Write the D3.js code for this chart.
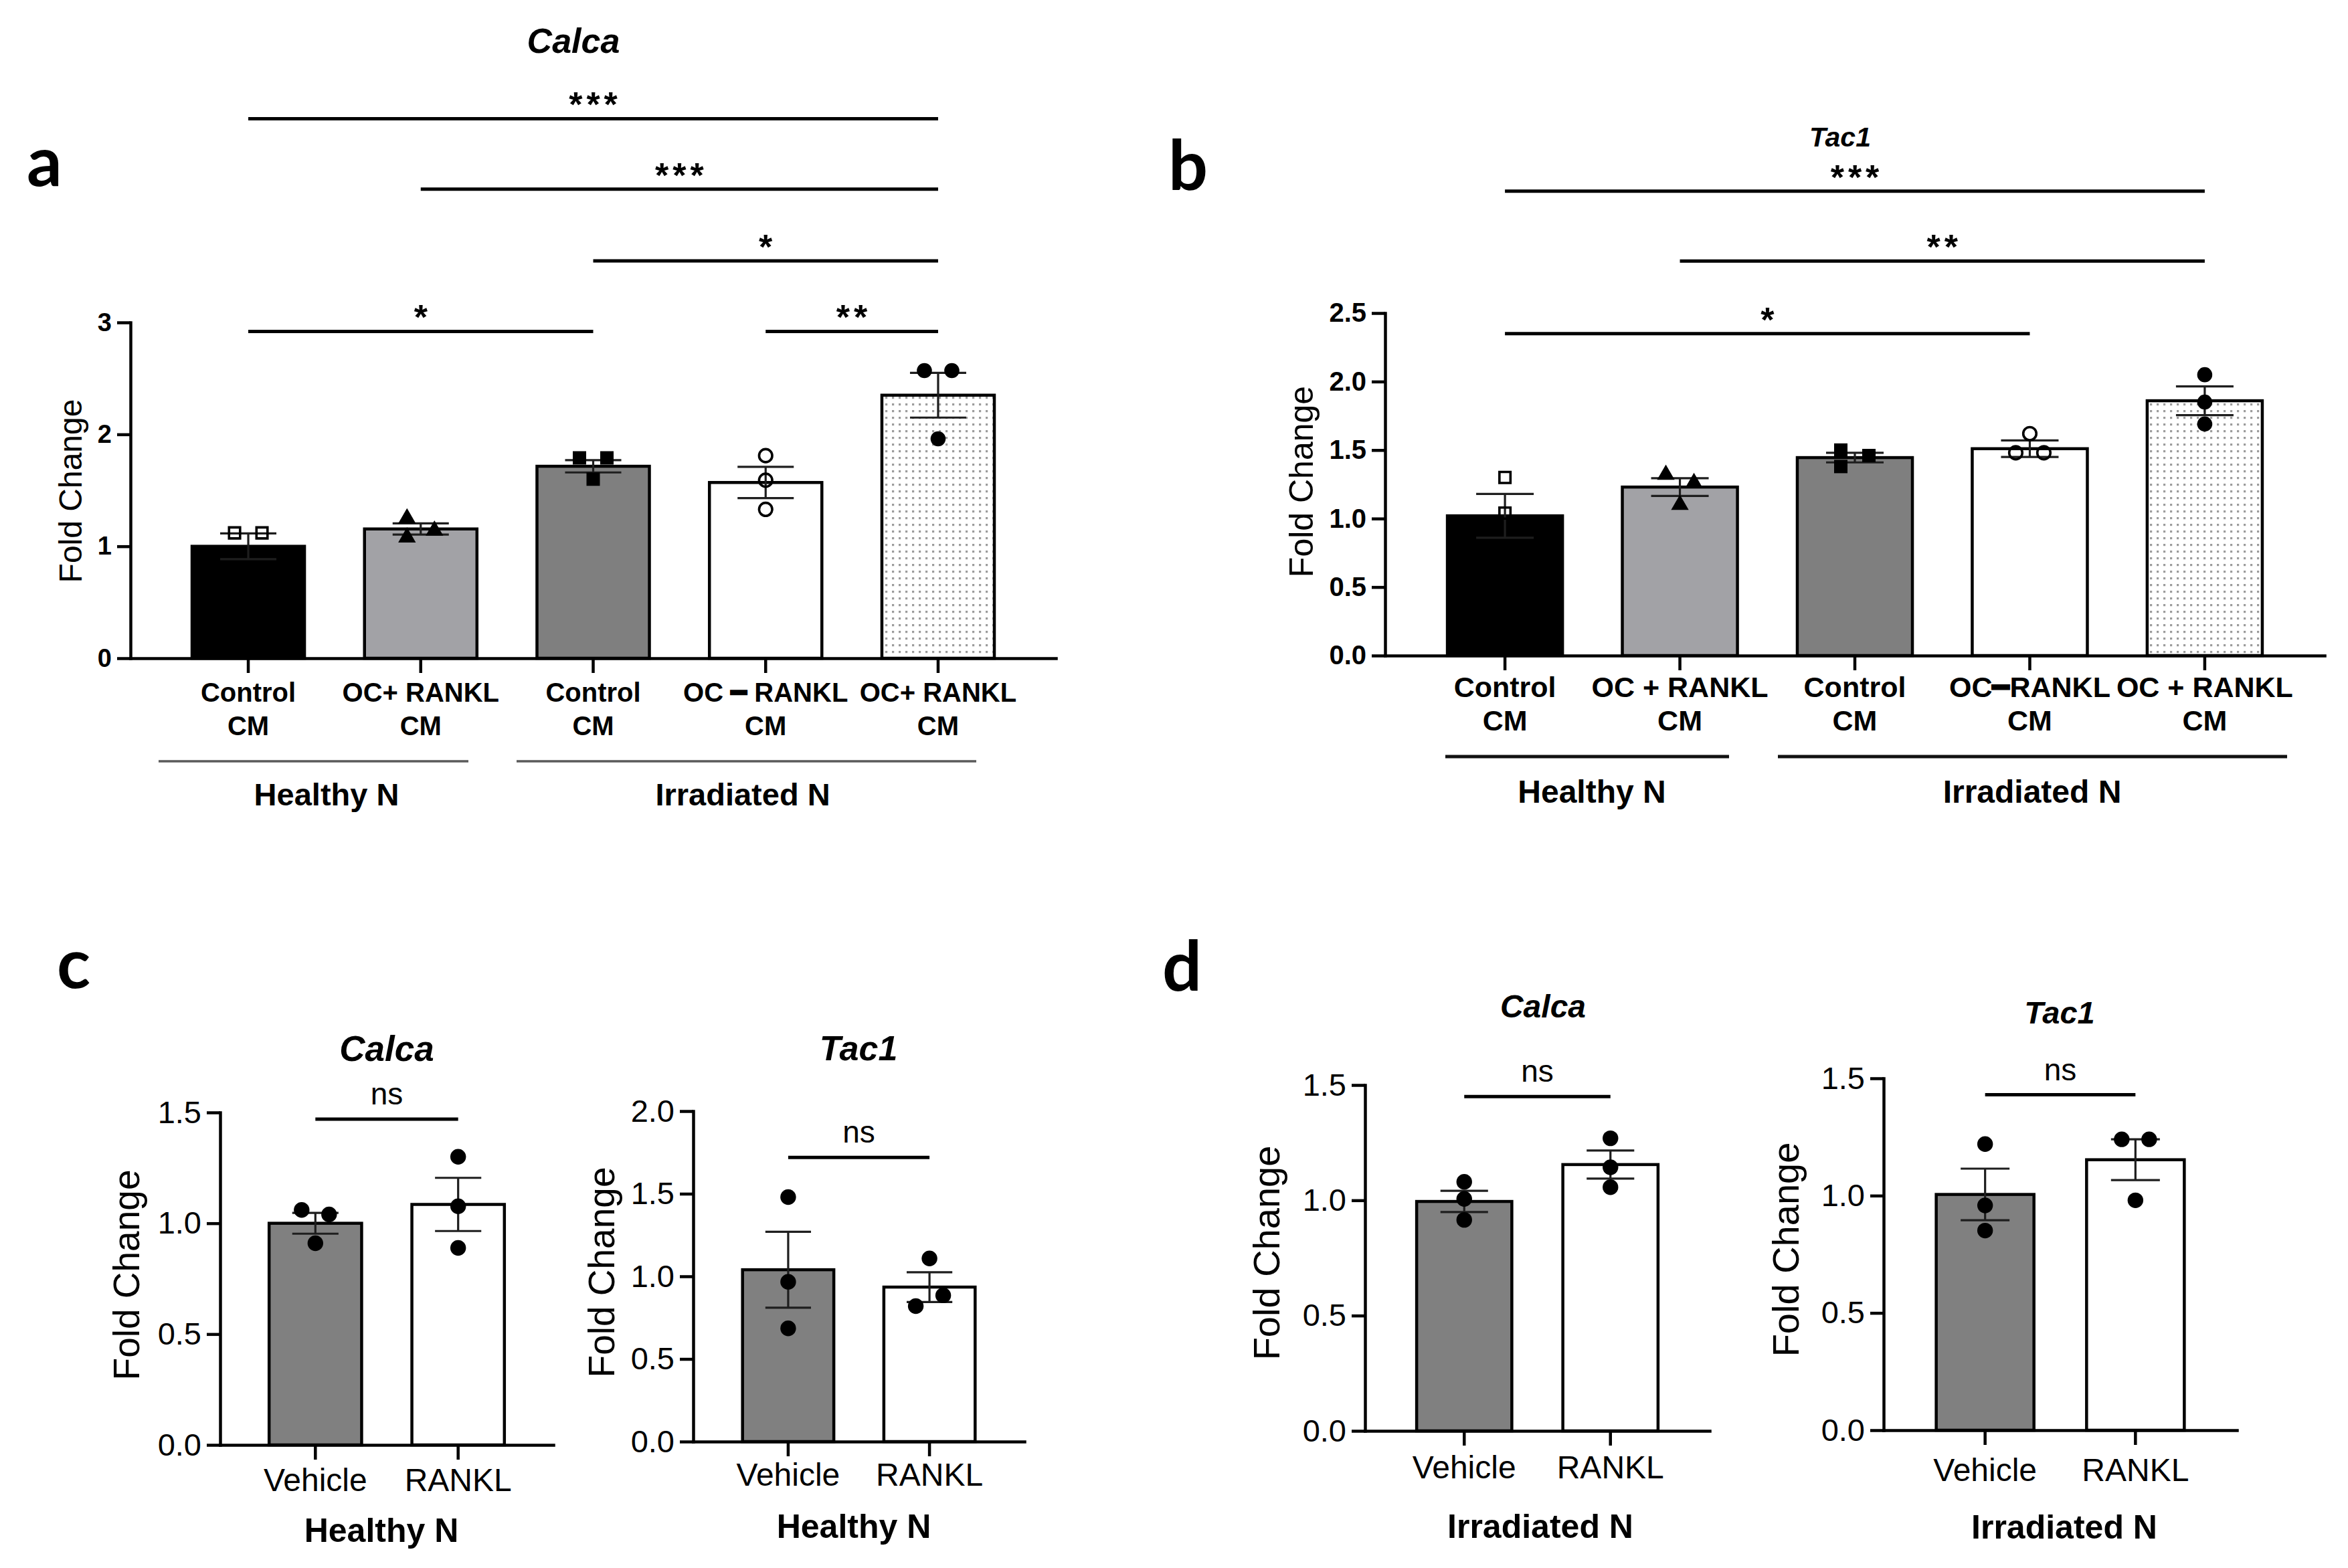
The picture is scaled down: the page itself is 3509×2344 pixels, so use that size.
<!DOCTYPE html>
<html><head><meta charset="utf-8">
<script src="https://cdn.jsdelivr.net/npm/d3@7"></script>
<style>body{margin:0;background:#fff}svg{display:block}</style>
</head><body>
<svg id="fig" width="3509" height="2344"></svg>
<script>
// ---------- DATA ----------
// Panel a (Calca)
const aLabelTop = ["Control", "OC+ RANKL", "Control", "OC \u2501 RANKL", "OC+ RANKL"];
const aLabelBottom = ["CM", "CM", "CM", "CM", "CM"];
const aMeans = [1.00, 1.155, 1.715, 1.57, 2.35];
const aSem = [0.115, 0.05, 0.055, 0.14, 0.20];
const aPoints = [[1.12, 1.12, 0.76], [1.25, 1.08, 1.14], [1.79, 1.79, 1.60], [1.81, 1.59, 1.33], [2.57, 2.57, 1.96]];
const aTicks = [0, 1, 2, 3];
const aSig = [
  {from: 0, to: 4, y: 4.82, label: "***"},
  {from: 1, to: 4, y: 4.19, label: "***"},
  {from: 2, to: 4, y: 3.55, label: "*"},
  {from: 0, to: 2, y: 2.92, label: "*"},
  {from: 3, to: 4, y: 2.92, label: "**"}
];
// Panel b (Tac1)
const bLabelTop = ["Control", "OC + RANKL", "Control", "OC\u2501RANKL", "OC + RANKL"];
const bLabelBottom = ["CM", "CM", "CM", "CM", "CM"];
const bMeans = [1.02, 1.23, 1.445, 1.51, 1.86];
const bSem = [0.16, 0.065, 0.035, 0.06, 0.105];
const bPoints = [[1.30, 1.04, 0.73], [1.32, 1.26, 1.10], [1.50, 1.38, 1.46], [1.62, 1.48, 1.48], [2.05, 1.85, 1.69]];
const bTicks = [0, 0.5, 1.0, 1.5, 2.0, 2.5];
const bSig = [
  {from: 0, to: 4, y: 3.39, label: "***"},
  {from: 1, to: 4, y: 2.88, label: "**"},
  {from: 0, to: 3, y: 2.35, label: "*"}
];
const groupLabels = ["Healthy N", "Irradiated N"];
// Panels c, d
const cdCats = ["Vehicle", "RANKL"];
const cCalcaMeans = [1.00, 1.085];
const cCalcaSem = [0.047, 0.12];
const cCalcaPoints = [[1.06, 1.04, 0.91], [1.30, 1.077, 0.889]];
const cTac1Means = [1.04, 0.935];
const cTac1Sem = [0.23, 0.09];
const cTac1Points = [[1.48, 0.967, 0.685], [1.108, 0.885, 0.82]];
const dCalcaMeans = [0.995, 1.155];
const dCalcaSem = [0.046, 0.061];
const dCalcaPoints = [[1.08, 1.006, 0.915], [1.269, 1.143, 1.057]];
const dTac1Means = [1.005, 1.153];
const dTac1Sem = [0.11, 0.087];
const dTac1Points = [[1.22, 0.958, 0.851], [1.24, 1.24, 0.98]];
const ticks15 = [0, 0.5, 1.0, 1.5];
const ticks20 = [0, 0.5, 1.0, 1.5, 2.0];
const nsY = {cCalca: 1.47, cTac1: 1.72, dCalca: 1.45, dTac1: 1.43};

// ---------- DRAWING ----------
const FONT = "'Liberation Sans', Arial, Helvetica, sans-serif";
const svg = d3.select("#fig");
svg.append("rect").attr("width", 3509).attr("height", 2344).attr("fill", "#fff");
const defs = svg.append("defs");
const pat = defs.append("pattern").attr("id", "dots").attr("width", 10).attr("height", 10)
  .attr("patternUnits", "userSpaceOnUse");
pat.append("rect").attr("width", 10).attr("height", 10).attr("fill", "#fff");
pat.append("rect").attr("x", 3).attr("y", 3).attr("width", 3.2).attr("height", 3.2).attr("fill", "#9c9c9c");

function txt(g, x, y, s, size, opts = {}) {
  const t = g.append("text").attr("x", x).attr("y", y).text(s)
    .attr("font-family", opts.family || FONT).attr("font-size", size)
    .attr("font-weight", opts.weight || "normal")
    .attr("font-style", opts.style || "normal")
    .attr("text-anchor", opts.anchor || "middle").attr("fill", "#000");
  if (opts.ls) t.attr("letter-spacing", opts.ls);
  if (opts.rotate) t.attr("transform", `rotate(-90,${x},${y})`).attr("dominant-baseline", "central");
  return t;
}

function panel(o) {
  const g = svg.append("g");
  const n = o.means.length;
  const x = d3.scaleBand().domain(d3.range(n)).range([o.x0, o.x1]).paddingInner(o.pi).paddingOuter(o.po);
  const y = d3.scaleLinear().domain([0, o.yMax]).range([o.y0, o.yTop]);
  const cx = i => x(i) + x.bandwidth() / 2;

  // bars
  g.selectAll("rect.bar").data(o.means).join("rect").attr("class", "bar")
    .attr("x", (d, i) => x(i)).attr("y", d => y(d))
    .attr("width", x.bandwidth()).attr("height", d => y(0) - y(d))
    .attr("fill", (d, i) => o.fills[i]).attr("stroke", "#000").attr("stroke-width", 4.5);

  // error bars (SEM)
  const capW = x.bandwidth() * 0.5;
  const eb = g.append("g").attr("stroke", "#1e1e1e").attr("stroke-width", 3.2).attr("fill", "none");
  o.means.forEach((m, i) => {
    const lo = y(m - o.sem[i]), hi = y(m + o.sem[i]);
    eb.append("line").attr("x1", cx(i)).attr("x2", cx(i)).attr("y1", lo).attr("y2", hi);
    eb.append("line").attr("x1", cx(i) - capW / 2).attr("x2", cx(i) + capW / 2).attr("y1", hi).attr("y2", hi);
    eb.append("line").attr("x1", cx(i) - capW / 2).attr("x2", cx(i) + capW / 2).attr("y1", lo).attr("y2", lo);
  });

  // axes
  const yAx = g.append("g").attr("transform", `translate(${o.x0},0)`)
    .call(d3.axisLeft(y).tickValues(o.ticks).tickSize(20).tickSizeOuter(0).tickPadding(8).tickFormat(d3.format(o.fmt)));
  const xAx = g.append("g").attr("transform", `translate(0,${o.y0})`)
    .call(d3.axisBottom(x).tickSize(22).tickSizeOuter(0).tickFormat(""));
  [yAx, xAx].forEach(a => {
    a.select(".domain").attr("stroke", "#000").attr("stroke-width", 4.5).attr("stroke-linecap", "square");
    a.selectAll(".tick line").attr("stroke", "#000").attr("stroke-width", 4.5);
  });
  yAx.selectAll(".tick text").attr("font-family", FONT).attr("font-size", o.tickSize)
    .attr("font-weight", o.tickWeight).attr("fill", "#000");

  // points
  const pts = o.points.flatMap((arr, i) => arr.map((v, k) => ({i, v, dx: o.jit[i][k]})));
  const sym = {
    sq: d3.symbol().type(d3.symbolSquare).size(400),
    sqOpen: d3.symbol().type(d3.symbolSquare).size(272),
    tri: d3.symbol().type(d3.symbolTriangle).size(300),
    circ: d3.symbol().type(d3.symbolCircle).size(o.dotSize || 420),
    circOpen: d3.symbol().type(d3.symbolCircle).size(300)
  };
  g.selectAll("path.pt").data(pts).join("path").attr("class", "pt")
    .attr("transform", d => `translate(${cx(d.i) + d.dx * o.jitPx},${y(d.v)})`)
    .attr("d", d => sym[o.shapes[d.i]]())
    .attr("fill", d => o.shapes[d.i].endsWith("Open") ? "none" : "#000")
    .attr("stroke", "#000")
    .attr("stroke-width", d => o.shapes[d.i].endsWith("Open") ? 3.6 : 0);

  // significance brackets
  (o.sig || []).forEach(s => {
    const yy = y(s.y);
    g.append("line").attr("x1", cx(s.from)).attr("x2", cx(s.to)).attr("y1", yy).attr("y2", yy)
      .attr("stroke", "#000").attr("stroke-width", 5);
    const mid = (cx(s.from) + cx(s.to)) / 2;
    if (s.label === "ns") txt(g, mid, yy - 22, "ns", o.nsSize || 46);
    else txt(g, mid + 3, yy - 3, s.label, 52, {weight: "bold", ls: 6});
  });

  // y label
  txt(g, o.ylabX, o.ylabY, "Fold Change", o.ylabSize, {rotate: true});
  // title
  txt(g, o.titleX, o.titleY, o.title, o.titleSize, {weight: "bold", style: "italic"});
  return {x, y, cx, g};
}

// Panel a
const pa = panel({
  means: aMeans, sem: aSem, points: aPoints, ticks: aTicks, fmt: "d", yMax: 3,
  x0: 195, x1: 1578, pi: 0.348, po: 0.357, y0: 984, yTop: 482,
  fills: ["#000", "#a2a2a6", "#7f7f7f", "#fff", "url(#dots)"],
  shapes: ["sqOpen", "tri", "sq", "circOpen", "circ"],
  jit: [[-1, 1, 0], [-1, -1, 1], [-1, 1, 0], [0, 0, 0], [-1, 1, 0]], jitPx: 20.5,
  tickSize: 38, tickWeight: "bold", sig: aSig, dotSize: 400,
  ylabX: 105, ylabY: 734, ylabSize: 48,
  title: "Calca", titleX: 857, titleY: 79, titleSize: 52
});
aLabelTop.forEach((s, i) => {
  txt(pa.g, pa.cx(i), 1049, s, 40, {weight: "bold"});
  txt(pa.g, pa.cx(i), 1099, aLabelBottom[i], 40, {weight: "bold"});
});
[[237, 700], [772, 1459]].forEach(([a, b]) =>
  pa.g.append("line").attr("x1", a).attr("x2", b).attr("y1", 1138).attr("y2", 1138)
    .attr("stroke", "#5a5a5a").attr("stroke-width", 3.5));
txt(pa.g, 488, 1204, groupLabels[0], 47, {weight: "bold"});
txt(pa.g, 1110, 1204, groupLabels[1], 47, {weight: "bold"});

// Panel b
const pb = panel({
  means: bMeans, sem: bSem, points: bPoints, ticks: bTicks, fmt: ".1f", yMax: 2.5,
  x0: 2070, x1: 3474, pi: 0.342, po: 0.356, y0: 980, yTop: 468,
  fills: ["#000", "#a2a2a6", "#7f7f7f", "#fff", "url(#dots)"],
  shapes: ["sqOpen", "tri", "sq", "circOpen", "circ"],
  jit: [[0, 0, 0], [-1, 1, 0], [-1, -1, 1], [0, -1, 1], [0, 0, 0]], jitPx: 21,
  tickSize: 40, tickWeight: "bold", sig: bSig, dotSize: 400,
  ylabX: 1945, ylabY: 720, ylabSize: 50,
  title: "Tac1", titleX: 2750, titleY: 219, titleSize: 41
});
bLabelTop.forEach((s, i) => {
  txt(pb.g, pb.cx(i), 1042, s, 43, {weight: "bold"});
  txt(pb.g, pb.cx(i), 1092, bLabelBottom[i], 43, {weight: "bold"});
});
[[2160, 2584], [2657, 3418]].forEach(([a, b]) =>
  pb.g.append("line").attr("x1", a).attr("x2", b).attr("y1", 1131).attr("y2", 1131)
    .attr("stroke", "#111").attr("stroke-width", 5));
txt(pb.g, 2379, 1200, groupLabels[0], 48, {weight: "bold"});
txt(pb.g, 3037, 1200, groupLabels[1], 48, {weight: "bold"});

// Panels c & d
function small(o) {
  const p = panel(Object.assign({
    fills: ["#808080", "#fff"], shapes: ["circ", "circ"], jitPx: 20.5,
    fmt: ".1f", tickSize: 47, tickWeight: "normal", dotSize: 430
  }, o));
  cdCats.forEach((s, i) => txt(p.g, p.cx(i), o.catY, s, 48));
  txt(p.g, o.grpX, o.grpY, o.grp, 50, {weight: "bold"});
  return p;
}
small({
  means: cCalcaMeans, sem: cCalcaSem, points: cCalcaPoints, ticks: ticks15, yMax: 1.5,
  x0: 329, x1: 827, pi: 0.352, po: 0.343, y0: 2160, yTop: 1663,
  jit: [[-1, 1, 0], [0, 0, 0]], sig: [{from: 0, to: 1, y: nsY.cCalca, label: "ns"}],
  ylabX: 189, ylabY: 1906, ylabSize: 55,
  title: "Calca", titleX: 578, titleY: 1586, titleSize: 53,
  catY: 2229, grp: groupLabels[0], grpX: 570, grpY: 2305
});
small({
  means: cTac1Means, sem: cTac1Sem, points: cTac1Points, ticks: ticks20, yMax: 2.0,
  x0: 1036, x1: 1531, pi: 0.354, po: 0.349, y0: 2155, yTop: 1661,
  jit: [[0, 0, 0], [0, 1, -1]], sig: [{from: 0, to: 1, y: nsY.cTac1, label: "ns"}],
  ylabX: 899, ylabY: 1902, ylabSize: 55,
  title: "Tac1", titleX: 1283, titleY: 1585, titleSize: 52,
  catY: 2221, grp: groupLabels[0], grpX: 1276, grpY: 2299
});
small({
  means: dCalcaMeans, sem: dCalcaSem, points: dCalcaPoints, ticks: ticks15, yMax: 1.5,
  x0: 2040, x1: 2555, pi: 0.349, po: 0.353, y0: 2139, yTop: 1622,
  jit: [[0, 0, 0], [0, 0, 0]], sig: [{from: 0, to: 1, y: nsY.dCalca, label: "ns"}],
  ylabX: 1892, ylabY: 1873, ylabSize: 56,
  title: "Calca", titleX: 2306, titleY: 1521, titleSize: 48,
  catY: 2210, grp: groupLabels[1], grpX: 2302, grpY: 2299
});
small({
  means: dTac1Means, sem: dTac1Sem, points: dTac1Points, ticks: ticks15, yMax: 1.5,
  x0: 2815, x1: 3343, pi: 0.35, po: 0.35, y0: 2138, yTop: 1612,
  jit: [[0, 0, 0], [-1, 1, 0]], sig: [{from: 0, to: 1, y: nsY.dTac1, label: "ns"}],
  ylabX: 2668, ylabY: 1868, ylabSize: 56,
  title: "Tac1", titleX: 3078, titleY: 1530, titleSize: 47,
  catY: 2214, grp: groupLabels[1], grpX: 3085, grpY: 2300
});

// panel letters
const LFONT = "Lato, 'Open Sans', 'Liberation Sans', sans-serif";
[["a", 40, 278], ["b", 1746, 284], ["c", 85, 1477], ["d", 1737, 1481]].forEach(([s, x, y]) =>
  txt(svg, x, y, s, 104, {weight: "bold", anchor: "start", family: LFONT}));
</script>
</body></html>
